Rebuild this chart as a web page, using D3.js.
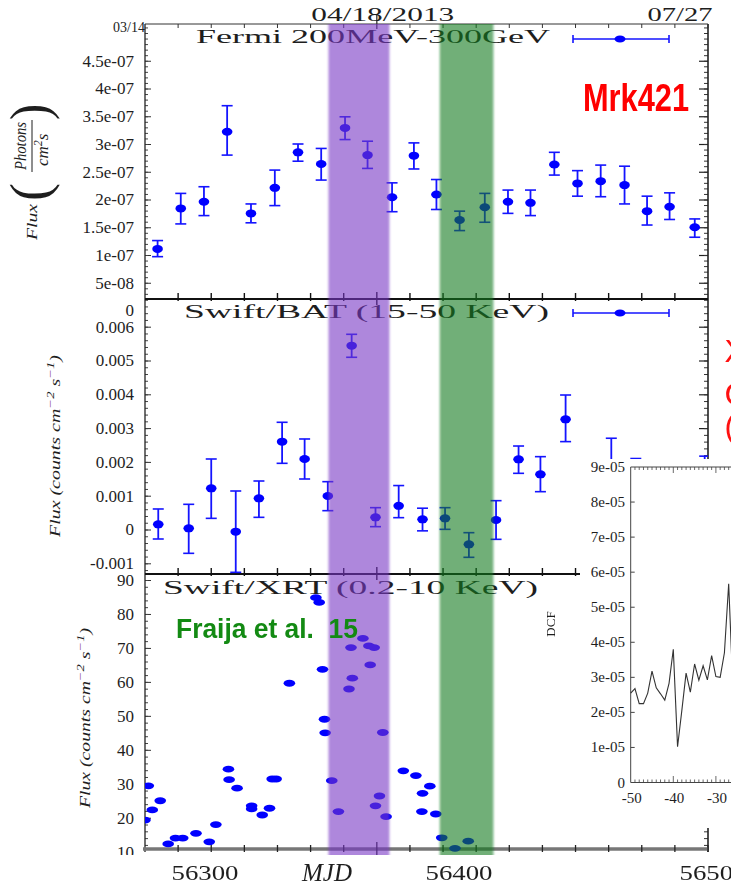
<!DOCTYPE html>
<html><head><meta charset="utf-8">
<script src="https://cdn.jsdelivr.net/npm/d3@7"></script>
<style>body{margin:0;background:#fff}svg{display:block}</style>
</head><body>
<svg id="c" width="731" height="886"></svg>
<script>
// ---------------- DATA ----------------
const fermiMJD  = [56366.9,56370.4,56373.9,56377.4,56381.0,56384.6,56388.1,56391.6,56395.2,56398.6,56402.3,56405.6,56409.0,56412.5,56416.3,56419.8,56423.2,56426.8,56430.3,56433.8,56437.4,56440.8,56444.2,56448.0];
const fermiFlux = [1.11e-7,1.84e-7,1.96e-7,3.22e-7,1.75e-7,2.21e-7,2.85e-7,2.64e-7,3.29e-7,2.80e-7,2.04e-7,2.79e-7,2.09e-7,1.63e-7,1.86e-7,1.96e-7,1.94e-7,2.63e-7,2.29e-7,2.33e-7,2.26e-7,1.79e-7,1.87e-7,1.50e-7];
const fermiLow  = [0.97e-7,1.56e-7,1.71e-7,2.80e-7,1.58e-7,1.89e-7,2.69e-7,2.35e-7,3.08e-7,2.56e-7,1.78e-7,2.55e-7,1.82e-7,1.44e-7,1.59e-7,1.75e-7,1.71e-7,2.44e-7,2.06e-7,2.05e-7,1.92e-7,1.54e-7,1.64e-7,1.32e-7];
const fermiHigh = [1.26e-7,2.11e-7,2.23e-7,3.69e-7,1.92e-7,2.53e-7,3.00e-7,2.92e-7,3.49e-7,3.05e-7,2.30e-7,3.02e-7,2.36e-7,1.79e-7,2.11e-7,2.17e-7,2.17e-7,2.85e-7,2.52e-7,2.62e-7,2.60e-7,2.06e-7,2.12e-7,1.65e-7];

const batMJD  = [56367.0,56371.6,56375.0,56378.7,56382.2,56385.7,56389.1,56392.6,56396.2,56399.8,56403.3,56406.9,56410.3,56413.9,56418.0,56421.4,56424.7,56428.5,56435.4,56439.1,56449.5];
const batFlux = [0.000153,0.000035,0.001218,-0.000064,0.000922,0.002599,0.002086,0.000991,0.005438,0.00036,0.0007,0.0003,0.00033,-0.000439,0.000281,0.002076,0.001632,0.00326,0.0018,0.0012,0.0012];
const batLow  = [-0.000281,-0.000705,0.00033,-0.001267,0.00036,0.001958,0.001494,0.000557,0.005095,0.000084,0.00035,-0.00004,0.000005,-0.000823,-0.000291,0.001662,0.001119,0.0026,0.0009,0.0004,0.0004];
const batHigh = [0.000607,0.000745,0.002086,0.001139,0.001435,0.003172,0.002678,0.001415,0.005775,0.000646,0.0013,0.00063,0.000646,-0.000094,0.000853,0.00247,0.002155,0.003979,0.0027,0.0021,0.00217];

const xrtMJD  = [56365.5,56365.0,56366.1,56367.3,56368.5,56369.6,56370.7,56372.7,56374.7,56375.7,56377.6,56377.7,56378.9,56381.1,56381.1,56382.7,56383.8,56384.2,56384.8,56386.8,56390.8,56391.3,56391.8,56392.1,56392.2,56393.2,56394.2,56395.8,56396.1,56396.3,56397.9,56398.8,56399.0,56399.6,56399.8,56400.4,56400.9,56401.4,56404.0,56405.9,56406.8,56406.9,56408.0,56408.9,56409.8,56411.8,56413.8];
const xrtFlux = [29.4,19.3,22.3,25.0,12.3,14.0,14.0,15.4,12.9,18.0,34.3,31.2,28.7,23.5,22.6,20.8,22.8,31.4,31.4,59.6,84.8,83.4,63.7,49.0,45.0,30.9,21.8,57.9,70.1,61.1,72.8,70.6,65.0,70.1,23.5,26.4,45.1,20.3,33.8,32.4,21.8,27.2,29.3,21.1,14.1,11.0,13.1];

const dcfLag   = [-50,-49,-48,-47,-46,-45,-44,-43,-42,-41,-40,-39,-38,-37,-36,-35,-34,-33,-32,-31,-30,-29,-28,-27,-26];
const dcfValue = [2.55e-5,2.68e-5,2.25e-5,2.25e-5,2.55e-5,3.18e-5,2.70e-5,2.53e-5,2.35e-5,2.83e-5,3.80e-5,1.02e-5,2.05e-5,3.12e-5,2.58e-5,3.38e-5,2.92e-5,3.33e-5,2.93e-5,3.62e-5,3.02e-5,3.00e-5,3.70e-5,5.67e-5,2.67e-5];

const fermiTickVals = [0,5e-8,1e-7,1.5e-7,2e-7,2.5e-7,3e-7,3.5e-7,4e-7,4.5e-7];
const fermiTickLabels = ["0","5e-08","1e-07","1.5e-07","2e-07","2.5e-07","3e-07","3.5e-07","4e-07","4.5e-07"];
const batTickVals = [-0.001,0,0.001,0.002,0.003,0.004,0.005,0.006];
const batTickLabels = ["-0.001","0","0.001","0.002","0.003","0.004","0.005","0.006"];
const xrtTickVals = [10,20,30,40,50,60,70,80,90];
const xrtTickLabels = ["10","20","30","40","50","60","70","80","90"];
const mjdLabelVals = [56300,56400,56500];
const mjdLabels = ["56300","56400","56500"];
const dateLabels = ["04/18/2013","07/27"];
const dcfTickVals = [0,1e-5,2e-5,3e-5,4e-5,5e-5,6e-5,7e-5,8e-5,9e-5];
const dcfTickLabels = ["0","1e-05","2e-05","3e-05","4e-05","5e-05","6e-05","7e-05","8e-05","9e-05"];
const lagTickVals = [-50,-40,-30];

// ---------------- LAYOUT ----------------
const SERIF = "'Liberation Serif','DejaVu Serif',serif";
const SANS = "'Liberation Sans',Arial,sans-serif";
const BLUE = "#1414ff";
const L = 145, R = 708, T = 24, S1 = 299, S2 = 574, B = 849;

const svg = d3.select("#c");
const defs = svg.append("defs");
function clip(id,x,y,w,h){defs.append("clipPath").attr("id",id).append("rect").attr("x",x).attr("y",y).attr("width",w).attr("height",h);}
clip("cTop",L,T,R-L,S1-T);
clip("cMid",L,S1,R-L,S2-S1);
clip("cBot",L,S2,R-L,B+5-S2);
defs.append("filter").attr("id","soft").attr("x","-10%").attr("width","120%")
  .append("feGaussianBlur").attr("stdDeviation","1.3 0");

const x = d3.scaleLinear().domain([56365,56450]).range([L,R]);
const yF = d3.scaleLinear().domain([0,5e-7]).range([310.5,33]);
const yB = d3.scaleLinear().domain([0,0.006]).range([529.5,326.7]);
const yX = d3.scaleLinear().domain([10,90]).range([851.7,580]);
const xLab = d3.scaleLinear().domain([56300,56400]).range([205,459]);

// ---------------- FRAME & AXES ----------------
const frame = svg.append("g");
function yAxes(y, majors, labels, minors, y0, y1){
  const inR = v => y(v) >= y0-0.5 && y(v) <= y1+0.5;
  const gl = frame.append("g").attr("transform",`translate(${L},0)`)
    .call(d3.axisLeft(y).tickValues(majors).tickSizeInner(-6).tickSizeOuter(0).tickPadding(11).tickFormat((d,i)=>labels[i]));
  gl.select(".domain").remove();
  gl.attr("font-family",SERIF).attr("font-size",17);
  gl.selectAll("text").attr("fill","#1e1e1e");
  gl.selectAll("line").attr("stroke","#333").filter(d=>!inR(d)).remove();
  const gm = frame.append("g").attr("transform",`translate(${L},0)`)
    .call(d3.axisLeft(y).tickValues(minors.filter(inR)).tickSizeInner(-3).tickSizeOuter(0).tickFormat(""));
  gm.select(".domain").remove(); gm.selectAll("line").attr("stroke","#444");
  const gr = frame.append("g").attr("transform",`translate(${R},0)`)
    .call(d3.axisRight(y).tickValues(majors.filter(inR)).tickSizeInner(-9).tickSizeOuter(0).tickFormat(""));
  gr.select(".domain").remove(); gr.selectAll("line").attr("stroke","#222").attr("stroke-width",1.2);
  const gr2 = frame.append("g").attr("transform",`translate(${R},0)`)
    .call(d3.axisRight(y).tickValues(minors.filter(inR)).tickSizeInner(-4).tickSizeOuter(0).tickFormat(""));
  gr2.select(".domain").remove(); gr2.selectAll("line").attr("stroke","#333");
}
yAxes(yF, fermiTickVals, fermiTickLabels, d3.range(0,52).map(i=>i*1e-8), T, S1);
yAxes(yB, batTickVals, batTickLabels, d3.range(-7,35).map(i=>i*0.0002), S1, S2);
yAxes(yX, xrtTickVals, xrtTickLabels, d3.range(5,46).map(i=>i*2), S2, B);

frame.append("line").attr("x1",L).attr("x2",L).attr("y1",T).attr("y2",B+3).attr("stroke","#222").attr("stroke-width",1.3);
frame.append("line").attr("x1",R).attr("x2",R).attr("y1",T).attr("y2",B+3).attr("stroke","#222").attr("stroke-width",1.6);
frame.append("line").attr("x1",L).attr("x2",R).attr("y1",T).attr("y2",T).attr("stroke","#333").attr("stroke-width",1);
[S1,S2].forEach(s=>frame.append("line").attr("x1",L).attr("x2",R).attr("y1",s).attr("y2",s).attr("stroke","#111").attr("stroke-width",2));
frame.append("line").attr("x1",L-2).attr("x2",R).attr("y1",B).attr("y2",B).attr("stroke","#777").attr("stroke-width",3.5);

const xTicks = d3.range(56365,56451,5);
const isMajor = d => d===56400;
frame.selectAll(null).data(xTicks.slice(1)).join("line")
  .attr("x1",d=>x(d)).attr("x2",d=>x(d)).attr("y1",d=>isMajor(d)?14:T).attr("y2",d=>isMajor(d)?29:T+4)
  .attr("stroke","#333").attr("stroke-width",d=>isMajor(d)?1.3:1);
[S1,S2].forEach(s=>{
  frame.selectAll(null).data(xTicks.slice(1,-1)).join("line")
    .attr("x1",d=>x(d)).attr("x2",d=>x(d)).attr("y1",d=>isMajor(d)?s-7:s-6).attr("y2",d=>isMajor(d)?s+6:s+2)
    .attr("stroke","#111").attr("stroke-width",1.4);
});
frame.selectAll(null).data(xTicks.slice(1)).join("line")
  .attr("x1",d=>x(d)).attr("x2",d=>x(d)).attr("y1",d=>isMajor(d)?B-7:B-4).attr("y2",d=>isMajor(d)?B+6:B+3)
  .attr("stroke","#222").attr("stroke-width",1.3);

svg.append("text").attr("x",L).attr("y",32).attr("text-anchor","end").attr("font-family",SERIF).attr("font-size",14).attr("fill","#222").text("03/14");
const dateX = [x(56400)+6, 680];
const dateW = [143, 65];
dateLabels.forEach((t,i)=>{
  svg.append("text").attr("x",dateX[i]).attr("y",21).attr("text-anchor","middle").attr("font-family",SERIF).attr("font-size",18)
    .attr("fill","#1e1e1e").attr("textLength",dateW[i]).attr("lengthAdjust","spacingAndGlyphs").text(t);
});

// ---------------- DATA MARKS ----------------
function errPanel(clipId, xs, vs, lo, hi, y, rx, ry){
  const g = svg.append("g").attr("clip-path",`url(#${clipId})`);
  const d = xs.map((m,i)=>({x:x(m), y:y(vs[i]), lo:y(lo[i]), hi:y(hi[i])}));
  g.selectAll(null).data(d).join("line").attr("x1",p=>p.x).attr("x2",p=>p.x).attr("y1",p=>p.hi).attr("y2",p=>p.lo)
    .attr("stroke",BLUE).attr("stroke-width",1.8);
  ["hi","lo"].forEach(k=>g.selectAll(null).data(d).join("line").attr("x1",p=>p.x-5.5).attr("x2",p=>p.x+5.5).attr("y1",p=>p[k]).attr("y2",p=>p[k])
    .attr("stroke",BLUE).attr("stroke-width",1.6));
  g.selectAll(null).data(d).join("ellipse").attr("cx",p=>p.x).attr("cy",p=>p.y).attr("rx",rx).attr("ry",ry).attr("fill","#0000ff");
}
errPanel("cTop", fermiMJD, fermiFlux, fermiLow, fermiHigh, yF, 5.3, 4);
errPanel("cMid", batMJD, batFlux, batLow, batHigh, yB, 5.3, 4);

svg.append("g").attr("clip-path","url(#cBot)").selectAll(null).data(xrtMJD.map((m,i)=>[m,xrtFlux[i]])).join("ellipse")
  .attr("cx",d=>x(d[0])).attr("cy",d=>yX(d[1])).attr("rx",5.8).attr("ry",3.4).attr("fill","#0000ff");

function legendSym(cy){
  const g = svg.append("g");
  g.append("line").attr("x1",573).attr("x2",669).attr("y1",cy).attr("y2",cy).attr("stroke",BLUE).attr("stroke-width",1.4);
  [573,669].forEach(xx=>g.append("line").attr("x1",xx).attr("x2",xx).attr("y1",cy-4).attr("y2",cy+4).attr("stroke",BLUE).attr("stroke-width",1.6));
  g.append("ellipse").attr("cx",620).attr("cy",cy).attr("rx",5.5).attr("ry",3.5).attr("fill","#0000ff");
}
legendSym(39); legendSym(313);

function ptitle(t, x0, yb, w){
  svg.append("text").attr("x",x0).attr("y",yb).attr("font-family",SERIF).attr("font-size",19).attr("fill","#1e1e1e")
    .attr("textLength",w).attr("lengthAdjust","spacingAndGlyphs").text(t);
}
ptitle("Fermi 200MeV-300GeV",196,43,354);
ptitle("Swift/BAT (15-50 KeV)",184,318,365);
ptitle("Swift/XRT (0.2-10 KeV)",163,594,375);

const ty = svg.append("g").attr("transform","translate(34,180) rotate(-90)").attr("font-family",SERIF).attr("fill","#1e1e1e");
ty.append("text").attr("x",-60).attr("y",3).attr("font-style","italic").attr("font-size",14).attr("textLength",36).attr("lengthAdjust","spacingAndGlyphs").text("Flux");
ty.append("text").attr("x",-21).attr("y",14).attr("font-size",54).attr("textLength",18).attr("lengthAdjust","spacingAndGlyphs").text("(");
ty.append("text").attr("x",10).attr("y",-8).attr("font-style","italic").attr("font-size",17).attr("textLength",48).attr("lengthAdjust","spacingAndGlyphs").text("Photons");
ty.append("line").attr("x1",8).attr("x2",60).attr("y1",-2).attr("y2",-2).attr("stroke","#1e1e1e").attr("stroke-width",1);
const cm = ty.append("text").attr("x",14).attr("y",14).attr("font-style","italic").attr("font-size",17);
cm.append("tspan").text("cm"); cm.append("tspan").attr("font-size",12).attr("dy",-6).text("2"); cm.append("tspan").attr("dy",6).text("s");
ty.append("text").attr("x",60).attr("y",14).attr("font-size",54).attr("textLength",16).attr("lengthAdjust","spacingAndGlyphs").text(")");

function countsTitle(cx, cy, len){
  const t = svg.append("text").attr("transform",`translate(${cx},${cy}) rotate(-90)`).attr("text-anchor","middle")
    .attr("font-family",SERIF).attr("font-style","italic").attr("font-size",15).attr("fill","#1e1e1e")
    .attr("textLength",len).attr("lengthAdjust","spacingAndGlyphs");
  t.append("tspan").text("Flux (counts cm");
  t.append("tspan").attr("dy",-6).attr("font-size",11).attr("fill","#7a2a8a").text("−");
  t.append("tspan").attr("font-size",11).text("2");
  t.append("tspan").attr("dy",6).text(" s");
  t.append("tspan").attr("dy",-6).attr("font-size",11).attr("fill","#7a2a8a").text("−");
  t.append("tspan").attr("font-size",11).text("1");
  t.append("tspan").attr("dy",6).text(")");
}
countsTitle(60,446,182);
countsTitle(90,718,180);

// ---------------- BANDS ----------------
const bands = svg.append("g").attr("filter","url(#soft)");
bands.append("rect").attr("x",x(56392.7)).attr("y",T).attr("width",x(56401.9)-x(56392.7)).attr("height",855-T).attr("fill","rgb(120,53,197)").attr("opacity",0.6);
bands.append("rect").attr("x",x(56409.5)).attr("y",T).attr("width",x(56417.6)-x(56409.5)).attr("height",855-T).attr("fill","rgb(13,123,30)").attr("opacity",0.6);

svg.append("rect").attr("x",0).attr("y",855).attr("width",731).attr("height",9).attr("fill","#fff");

// ---------------- INSET ----------------
const xi = d3.scaleLinear().domain([-50,-30]).range([630.7,715.9]);
const yi = d3.scaleLinear().domain([0,9e-5]).range([782.5,467]);
const ins = svg.append("g");
ins.append("rect").attr("x",580).attr("y",459).attr("width",151).attr("height",369).attr("fill","#fff");
ins.append("line").attr("x1",xi(-50)).attr("x2",xi(-50)).attr("y1",467).attr("y2",782.5).attr("stroke","#444");
ins.append("line").attr("x1",xi(-50)).attr("x2",731).attr("y1",782.5).attr("y2",782.5).attr("stroke","#444");
ins.append("line").attr("x1",xi(-50)).attr("x2",731).attr("y1",467).attr("y2",467).attr("stroke","#444");
const lagMinor = d3.range(-49,-25);
ins.selectAll(null).data(lagMinor).join("line").attr("x1",d=>xi(d)).attr("x2",d=>xi(d)).attr("y1",782.5).attr("y2",d=>d%10===0?776:779.5).attr("stroke","#444").attr("stroke-width",0.8);
ins.selectAll(null).data(lagMinor).join("line").attr("x1",d=>xi(d)).attr("x2",d=>xi(d)).attr("y1",467).attr("y2",d=>d%10===0?473:470).attr("stroke","#444").attr("stroke-width",0.8);
ins.selectAll(null).data(dcfTickVals.slice(1,-1)).join("line").attr("x1",xi(-50)).attr("x2",xi(-50)+4).attr("y1",d=>yi(d)).attr("y2",d=>yi(d)).attr("stroke","#444");
ins.selectAll(null).data(dcfTickVals).join("text").attr("x",625).attr("y",d=>yi(d)+5).attr("text-anchor","end")
  .attr("font-family",SERIF).attr("font-size",15).attr("fill","#1e1e1e").text((d,i)=>dcfTickLabels[i]);
ins.selectAll(null).data(lagTickVals).join("text").attr("x",d=>xi(d)+1).attr("y",803).attr("text-anchor","middle")
  .attr("font-family",SERIF).attr("font-size",15).attr("fill","#1e1e1e").text(d=>d);
ins.append("path").datum(dcfLag.map((l,i)=>[l,dcfValue[i]]))
  .attr("d",d3.line().x(d=>xi(d[0])).y(d=>yi(d[1]))).attr("fill","none").attr("stroke","#333").attr("stroke-width",1.1);
ins.append("text").attr("transform","translate(555,624) rotate(-90)").attr("text-anchor","middle")
  .attr("font-family",SERIF).attr("font-size",13).attr("fill","#1e1e1e").text("DCF");

// ---------------- OVERLAY TEXT ----------------
svg.append("text").attr("x",583).attr("y",111).attr("font-family",SANS).attr("font-weight","bold").attr("font-size",38)
  .attr("fill","#ff0000").attr("textLength",106).attr("lengthAdjust","spacingAndGlyphs").text("Mrk421");
svg.append("text").attr("x",176).attr("y",638).attr("font-family",SANS).attr("font-weight","bold").attr("font-size",28)
  .attr("fill","#138a13").attr("textLength",182).attr("lengthAdjust","spacingAndGlyphs").attr("xml:space","preserve").text("Fraija et al.  15");
[["X",362],["C",405],["(",437]].forEach(([t,yb])=>svg.append("text").attr("x",724.5).attr("y",yb).attr("font-family",SANS)
  .attr("font-size",32).attr("fill","#ff1010").text(t));

svg.selectAll(null).data(mjdLabelVals).join("text").attr("x",d=>xLab(d)).attr("y",880).attr("text-anchor","middle")
  .attr("font-family",SERIF).attr("font-size",21).attr("fill","#1e1e1e").attr("textLength",67).attr("lengthAdjust","spacingAndGlyphs")
  .text((d,i)=>mjdLabels[i]);
svg.append("text").attr("x",327).attr("y",881).attr("text-anchor","middle").attr("font-family",SERIF).attr("font-style","italic")
  .attr("font-size",25).attr("fill","#1e1e1e").text("MJD");
</script>
</body></html>
